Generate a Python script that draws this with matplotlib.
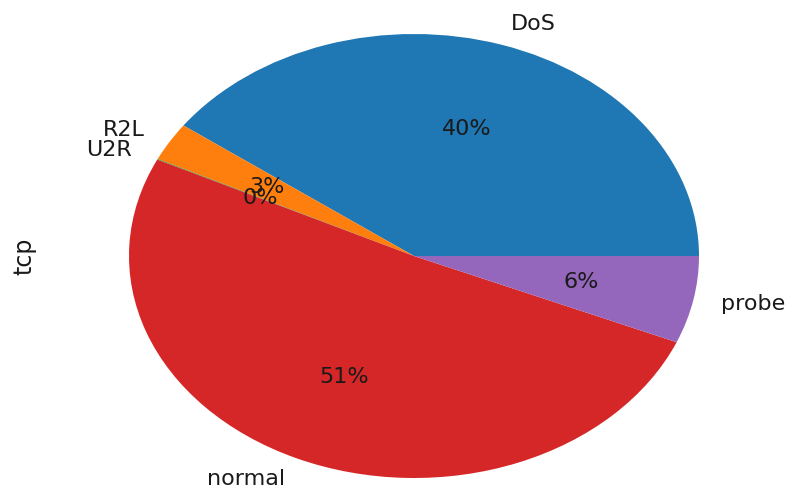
"""
Pie chart of attack categories for tcp connections.
"""
#===========================================
import matplotlib
matplotlib.use('Agg')
import matplotlib.pyplot as plt
#===========================================

# share of tcp connections per class (percent)
labels = ['DoS', 'R2L', 'U2R', 'normal', 'probe']
values = [40.0, 2.8, 0.05, 50.8, 6.35]
colors = ['#1f77b4', '#ff7f0e', '#2ca02c', '#d62728', '#9467bd']

#===========================================
def main():
    fig = plt.figure(figsize=(7.99, 4.92), dpi=100)
    ax = fig.add_axes([0, 0, 1, 1])

    ax.pie(values, labels=labels, colors=colors, autopct='%1.0f%%',
           textprops={'fontsize': 16, 'color': '#1a1a1a'})

    # pie is stretched, not round
    ax.set_aspect('auto')
    ax.set_xlim(-414/285, 385/285)
    ax.set_ylim(-236/222, 256/222)

    ax.set_ylabel('tcp', fontsize=17, color='#1a1a1a')
    ax.yaxis.set_label_coords(36/799, 0.48)

    fig.savefig('out.png', dpi=100)

#=============================================

main()
